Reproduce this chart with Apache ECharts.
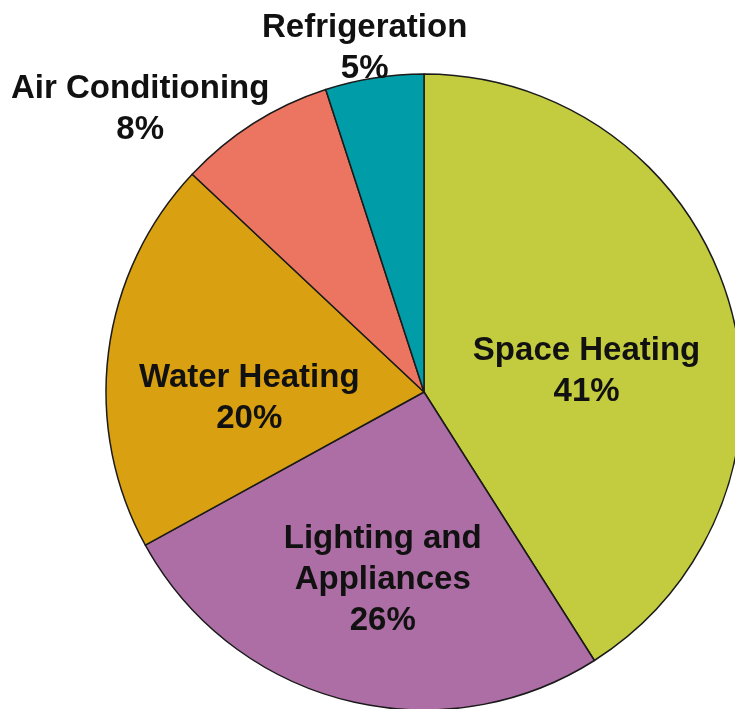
<!DOCTYPE html>
<html>
<head>
<meta charset="utf-8">
<script src="https://cdn.jsdelivr.net/npm/echarts@6/dist/echarts.min.js"></script>
<style>
  html, body { margin: 0; padding: 0; background: #fff; }
  #chart { width: 735px; height: 709px; }
</style>
</head>
<body>
<div id="chart"></div>
<script>
// 数据
const categories = ['Space Heating', 'Lighting and\nAppliances', 'Water Heating', 'Air Conditioning', 'Refrigeration']
const shares = [41, 26, 20, 8, 5]
const colors = ['#C3CC3E', '#AD6EA5', '#D9A112', '#EC7562', '#009CA7']

// label nudges from the library's inside position (px)
const labelShift = [[7, 25], [-1, 31], [-14, 27], [-197, -146], [-34, -184]]

let option = {
  animation: false,
  series: [
    {
      type: 'pie',
      center: [424, 392],
      radius: 318,
      startAngle: 90,
      clockwise: true,
      avoidLabelOverlap: false,
      itemStyle: {
        borderColor: '#1a1a1a',
        borderWidth: 1.5
      },
      label: {
        show: true,
        position: 'inside',
        formatter: '{b}\n{c}%',
        color: '#111',
        fontFamily: 'Liberation Sans, Arial, sans-serif',
        fontWeight: 'bold',
        fontSize: 33,
        lineHeight: 41,
        align: 'center'
      },
      labelLine: { show: false },
      labelLayout: function (params) {
        const s = labelShift[params.dataIndex]
        return { dx: s[0], dy: s[1] }
      },
      emphasis: { disabled: true },
      data: categories.map((name, i) => ({
        name: name,
        value: shares[i],
        itemStyle: { color: colors[i] }
      }))
    }
  ]
}

var myChart = echarts.init(document.getElementById('chart'))
myChart.setOption(option)
</script>
</body>
</html>
